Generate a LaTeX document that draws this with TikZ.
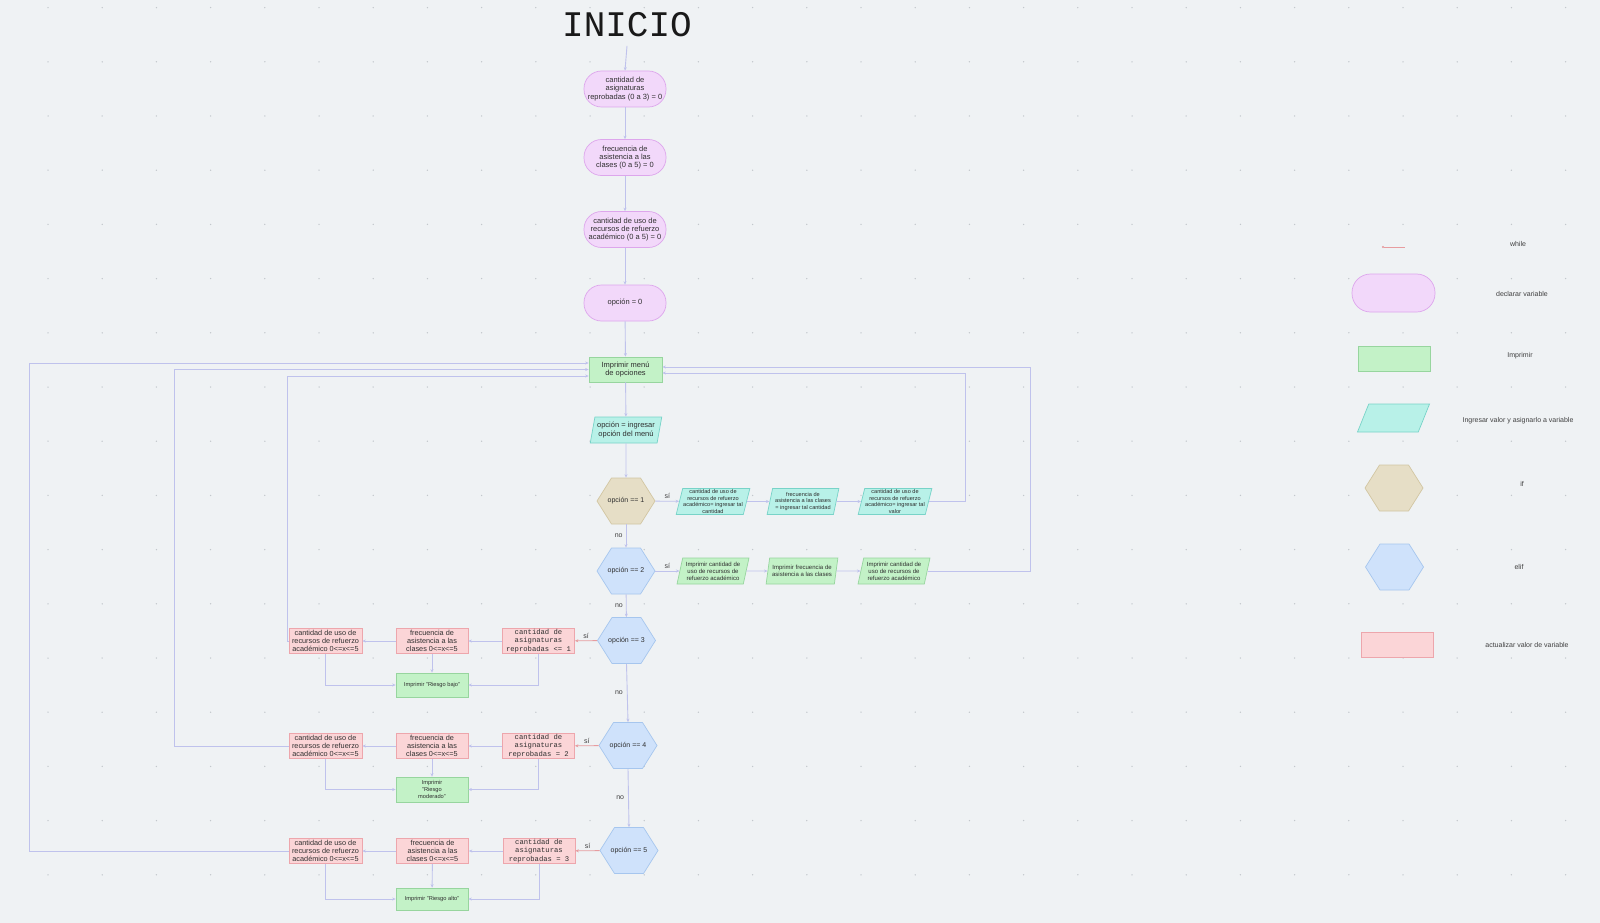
\documentclass[tikz,border=0pt]{standalone}
\usepackage{fontspec}
\setmainfont{Liberation Sans}
\newfontfamily\monof{Liberation Mono}
\usetikzlibrary{arrows.meta,shapes.geometric,calc}
\definecolor{bgc}{HTML}{EFF2F4}
\definecolor{dotc}{HTML}{C2C7CC}
\definecolor{lav}{HTML}{BFC2EC}
\definecolor{redl}{HTML}{E79C9F}
\definecolor{pinkf}{HTML}{F2D8FA}
\definecolor{pinkb}{HTML}{DDA6EC}
\definecolor{greenf}{HTML}{C3F2C7}
\definecolor{greenb}{HTML}{97D59E}
\definecolor{cyanf}{HTML}{B8F1E8}
\definecolor{cyanb}{HTML}{78D3C8}
\definecolor{beigef}{HTML}{E6DEC6}
\definecolor{beigeb}{HTML}{D2C6A2}
\definecolor{bluef}{HTML}{CFE2FB}
\definecolor{blueb}{HTML}{A6C6EE}
\definecolor{redf}{HTML}{FBD5D7}
\definecolor{redb}{HTML}{EDA6AC}
\definecolor{txt}{HTML}{2F2F2F}
\definecolor{lblc}{HTML}{404040}
\newcommand{\fsA}{\fontsize{7.5}{8.4}\selectfont}
\newcommand{\fsR}{\fontsize{7.3}{8.3}\selectfont}
\newcommand{\fsP}{\fontsize{6}{7}\selectfont}
\newcommand{\fsS}{\fontsize{5.6}{6.4}\selectfont}
\newcommand{\fsG}{\fontsize{5.7}{6.6}\selectfont}
\newcommand{\fsM}{\monof\fontsize{7.2}{8.3}\selectfont}
\tikzset{
  base/.style={inner sep=0pt, align=center, text=txt, font=\fsA, line width=0.7pt},
  decl/.style={base, draw=pinkb, fill=pinkf, rounded corners=17.5pt, minimum width=82pt, minimum height=36pt},
  prnt/.style={base, draw=greenb, fill=greenf, minimum width=72pt, minimum height=25pt},
  inpt/.style={base, inner sep=0.5pt, draw=cyanb, fill=cyanf, trapezium, trapezium left angle=75, trapezium right angle=105, trapezium stretches=true, minimum width=72pt, minimum height=26pt},
  outp/.style={inpt, draw=greenb, fill=greenf, font=\fsP},
  updt/.style={base, draw=redb, fill=redf, font=\fsR, minimum width=72pt, minimum height=25pt},
  hexlbl/.style={base, font=\fontsize{7}{8}\selectfont, minimum width=58pt, minimum height=46pt},
  conn/.style={draw=lav, line width=0.9pt, -{Stealth[length=3.5pt,width=3pt]}},
  rconn/.style={draw=redl, line width=0.9pt, -{Stealth[length=3.5pt,width=3pt]}},
  lbl/.style={text=lblc, font=\fontsize{7}{8}\selectfont, inner sep=1pt},
  leg/.style={text=lblc, font=\fontsize{7}{8}\selectfont, inner sep=0pt}
}
\newcommand{\hexnode}[6]{%
  \path[fill=#4, draw=#5, line width=0.7pt, line join=round] (#2-29,#3) -- (#2-14.5,#3-23) -- (#2+14.5,#3-23) -- (#2+29,#3) -- (#2+14.5,#3+23) -- (#2-14.5,#3+23) -- cycle;
  \node[hexlbl] (#1) at (#2,#3) {#6};}
\begin{document}
\begin{tikzpicture}[x=1pt,y=-1pt]
\fill[bgc] (0,0) rectangle (1600,923);
\useasboundingbox (0,0) rectangle (1600,923);
\foreach \i in {0,...,28}{\foreach \j in {0,...,16}{\fill[dotc] (48+54.2*\i,7.6+54.2*\j) circle (0.75pt);}}

% main column
\node[font=\monof\fontsize{36}{40}\selectfont, text=black!90, inner xsep=2pt, inner ysep=9pt] (ini) at (627,24.5) {INICIO};
\node[decl] (d1) at (625,89) {cantidad de\\asignaturas\\reprobadas (0 a 3) = 0};
\node[decl] (d2) at (625,157.5) {frecuencia de\\asistencia a las\\clases (0 a 5) = 0};
\node[decl] (d3) at (625,229.5) {cantidad de uso de\\recursos de refuerzo\\académico (0 a 5) = 0};
\node[decl] (d4) at (625,303) {opción = 0};
\node[prnt, minimum width=73pt] (menu) at (625.5,369.5) {Imprimir menú\\de opciones};
\node[inpt] (inp) at (626,430) {opción = ingresar\\opción del menú};
\hexnode{h1}{626}{501}{beigef}{beigeb}{opción == 1}
\hexnode{h2}{626}{571}{bluef}{blueb}{opción == 2}
\hexnode{h3}{626.5}{640.5}{bluef}{blueb}{opción == 3}
\hexnode{h4}{628}{745.5}{bluef}{blueb}{opción == 4}
\hexnode{h5}{629}{850.5}{bluef}{blueb}{opción == 5}

% row 1
\node[inpt, font=\fsS] (p1a) at (713,501.5) {cantidad de uso de\\recursos de refuerzo\\académico= ingresar tal\\cantidad};
\node[inpt, font=\fsS] (p1b) at (803,501.5) {frecuencia de\\asistencia a las clases\\= ingresar tal cantidad};
\node[inpt, font=\fsS] (p1c) at (895,501.5) {cantidad de uso de\\recursos de refuerzo\\académico= ingresar tal\\valor};
% row 2
\node[outp] (p2a) at (713,571) {Imprimir cantidad de\\uso de recursos de\\refuerzo académico};
\node[outp] (p2b) at (802,571) {Imprimir frecuencia de\\asistencia a las clases};
\node[outp] (p2c) at (894,571) {Imprimir cantidad de\\uso de recursos de\\refuerzo académico};
% row 3
\node[updt, font=\fsM] (c3) at (538.5,641) {cantidad de\\asignaturas\\reprobadas <= 1};
\node[updt] (b3) at (432,641) {frecuencia de\\asistencia a las\\clases 0<=x<=5};
\node[updt, minimum width=73pt] (a3) at (325.5,641) {cantidad de uso de\\recursos de refuerzo\\académico 0<=x<=5};
\node[prnt, font=\fsG, minimum height=24pt] (g3) at (432,685) {Imprimir "Riesgo bajo"};
% row 4
\node[updt, font=\fsM] (c4) at (538.5,746) {cantidad de\\asignaturas\\reprobadas = 2};
\node[updt] (b4) at (432,746) {frecuencia de\\asistencia a las\\clases 0<=x<=5};
\node[updt, minimum width=73pt] (a4) at (325.5,746) {cantidad de uso de\\recursos de refuerzo\\académico 0<=x<=5};
\node[prnt, font=\fsG] (g4) at (432,789.5) {Imprimir\\"Riesgo\\moderado"};
% row 5
\node[updt, font=\fsM] (c5) at (539,851) {cantidad de\\asignaturas\\reprobadas = 3};
\node[updt] (b5) at (432.5,851) {frecuencia de\\asistencia a las\\clases 0<=x<=5};
\node[updt, minimum width=73pt] (a5) at (325.5,851) {cantidad de uso de\\recursos de refuerzo\\académico 0<=x<=5};
\node[prnt, font=\fsG, minimum height=22pt] (g5) at (432,899) {Imprimir "Riesgo alto"};

% loop corner coordinates
\coordinate (r1) at (965,373);
\coordinate (r2) at (1030,367);
\coordinate (l3) at (287,376);
\coordinate (l4) at (174,369.5);
\coordinate (l5) at (29,363);

% main connectors
\draw[conn] (ini.south) -- (d1.north);
\draw[conn] (d1) -- (d2);
\draw[conn] (d2) -- (d3);
\draw[conn] (d3) -- (d4);
\draw[conn] (d4) -- (menu);
\draw[conn] (menu) -- (inp);
\draw[conn] (inp) -- (h1);
\draw[conn] (h1) -- node[lbl, left=2pt] {no} (h2);
\draw[conn] (h2) -- node[lbl, left=2pt] {no} (h3);
\draw[conn] (h3.south) -- node[lbl, left=3pt] {no} (h4.north);
\draw[conn] (h4.south) -- node[lbl, left=3pt] {no} (h5.north);

% row 1 connectors
\draw[conn] (h1) -- node[lbl, above=1pt] {sí} (p1a);
\draw[conn] (p1a) -- (p1b);
\draw[conn] (p1b) -- (p1c);
\draw[conn] (p1c.east) -| (r1) -- (menu.east |- r1);
% row 2 connectors
\draw[conn] (h2) -- node[lbl, above=1pt] {sí} (p2a);
\draw[conn] (p2a) -- (p2b);
\draw[conn] (p2b) -- (p2c);
\draw[conn] (p2c.east) -| (r2) -- (menu.east |- r2);
% row 3
\draw[rconn] (h3) -- node[lbl, above=1pt] {sí} (c3);
\draw[conn] (c3) -- (b3);
\draw[conn] (b3) -- (a3);
\draw[conn] (a3.west) -| (l3) -- (menu.west |- l3);
\draw[conn] (a3.south) |- (g3.west);
\draw[conn] (b3) -- (g3);
\draw[conn] (c3.south) |- (g3.east);
% row 4
\draw[rconn] (h4) -- node[lbl, above=1pt] {sí} (c4);
\draw[conn] (c4) -- (b4);
\draw[conn] (b4) -- (a4);
\draw[conn] (a4.west) -| (l4) -- (menu.west |- l4);
\draw[conn] (a4.south) |- (g4.west);
\draw[conn] (b4) -- (g4);
\draw[conn] (c4.south) |- (g4.east);
% row 5
\draw[rconn] (h5) -- node[lbl, above=1pt] {sí} (c5);
\draw[conn] (c5) -- (b5);
\draw[conn] (b5) -- (a5);
\draw[conn] (a5.west) -| (l5) -- (menu.west |- l5);
\draw[conn] (a5.south) |- (g5.west);
\draw[conn] (b5) -- (g5);
\draw[conn] (c5.south) |- (g5.east);

% legend
\coordinate (lw1) at (1382,247);
\coordinate (lw2) at (1405,247);
\draw[draw=redl, line width=0.9pt, {Circle[length=2pt]}-] (lw1) -- (lw2);
\node[leg] (lt1) at (1518,244) {while};
\node[decl, minimum width=83pt, minimum height=38pt, rounded corners=18.5pt] (ldecl) at (1393.5,293) {};
\node[leg] (lt2) at (1522,294) {declarar variable};
\node[prnt] (lprnt) at (1394,358.5) {};
\node[leg] (lt3) at (1520,356) {Imprimir};
\node[inpt, minimum height=28pt] (linp) at (1393.5,418) {\phantom{M}};
\node[leg] (lt4) at (1518,421) {Ingresar valor y asignarlo a variable};
\hexnode{lif}{1394}{488}{beigef}{beigeb}{}
\node[leg] (lt5) at (1522,484) {if};
\hexnode{lelif}{1394.5}{567}{bluef}{blueb}{}
\node[leg] (lt6) at (1519,567) {elif};
\node[updt] (lupd) at (1397,644.5) {};
\node[leg] (lt7) at (1527,645) {actualizar valor de variable};
\end{tikzpicture}
\end{document}
